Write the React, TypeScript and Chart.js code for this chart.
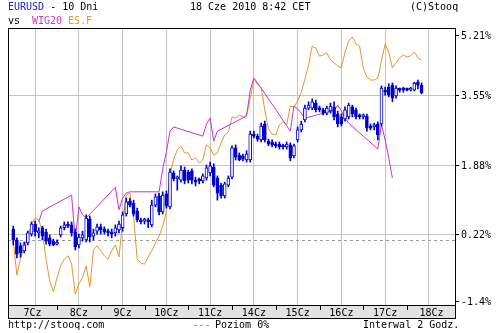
import React, { useEffect, useRef } from 'react';
import { Chart, registerables } from 'chart.js';

Chart.register(...registerables);

// ---- data (x = 2-hour bar index counted from 7 June 00:00, y = % change) ----
const dayLabels = ['7Cz', '8Cz', '9Cz', '10Cz', '11Cz', '14Cz', '15Cz', '16Cz', '17Cz', '18Cz'];
const dayBoundarySlots = [12, 24, 36, 48, 60, 72, 84, 96, 108];
const slotMin = -1.44;
const slotMax = 121.44;

const yMin = -1.465;
const yMax = 5.154;
const gridValues = [0.22, 1.88, 3.55];
const yTickValues = [5.21, 3.55, 1.88, 0.22, -1.4];
const yTickLabels = ['5.21%', '3.55%', '1.88%', '0.22%', '-1.4%'];
const zeroLevel = 0.09;

const eurOpen = [
  0.35, 0.09, -0.05, -0.17, 0.02, 0.23, 0.47, 0.26, 0.38, 0.28,
  0.14, 0.06, -0.01, 0.21, 0.38, 0.45, 0.45, 0.28, -0.03, 0.14,
  0.09, 0.59, 0.18, 0.30, 0.40, 0.35, 0.30, 0.28, 0.26, 0.33,
  0.38, 0.71, 1.02, 0.97, 0.78, 0.57, 0.54, 0.57, 0.45, 0.92,
  1.14, 0.76, 1.19, 0.88, 1.69, 1.55, 1.52, 1.76, 1.71, 1.74,
  1.52, 1.52, 1.50, 1.57, 1.69, 1.83, 1.57, 1.40, 1.14, 1.40,
  1.59, 2.29, 2.12, 2.10, 2.00, 2.00, 2.62, 2.57, 2.48, 2.86,
  2.45, 2.43, 2.38, 2.38, 2.34, 2.31, 2.36, 2.10, 2.48, 2.72,
  2.96, 3.24, 3.24, 3.36, 3.24, 3.20, 3.12, 3.17, 3.27, 3.10,
  3.03, 2.98, 3.03, 3.27, 3.20, 3.05, 3.03, 3.05, 2.81, 2.79,
  2.86, 2.86, 3.67, 3.74, 3.79, 3.53, 3.70, 3.70, 3.70, 3.67,
  3.67, 3.86, 3.79,
];
const eurHigh = [
  0.42, 0.14, 0.02, 0.04, 0.30, 0.52, 0.54, 0.38, 0.42, 0.35,
  0.21, 0.11, 0.09, 0.42, 0.52, 0.52, 0.52, 0.35, 0.23, 0.30,
  0.69, 0.66, 0.35, 0.47, 0.47, 0.40, 0.35, 0.35, 0.45, 0.54,
  0.76, 1.09, 1.09, 1.04, 0.85, 0.61, 0.61, 0.61, 1.04, 1.19,
  1.21, 1.24, 1.26, 1.79, 1.74, 1.62, 1.86, 1.83, 1.76, 1.79,
  1.59, 1.57, 1.67, 1.88, 1.95, 1.91, 1.62, 1.45, 1.47, 1.62,
  2.34, 2.36, 2.17, 2.14, 2.22, 2.69, 2.69, 2.62, 2.88, 2.93,
  2.50, 2.48, 2.43, 2.43, 2.38, 2.43, 2.41, 2.38, 2.79, 2.93,
  3.31, 3.39, 3.46, 3.43, 3.29, 3.24, 3.29, 3.36, 3.39, 3.17,
  3.10, 3.27, 3.36, 3.31, 3.24, 3.10, 3.10, 3.10, 2.86, 2.88,
  2.91, 3.77, 3.74, 3.82, 3.84, 3.77, 3.72, 3.74, 3.72, 3.74,
  3.86, 3.91, 3.84,
];
const eurLow = [
  -0.03, -0.34, -0.32, -0.22, -0.03, 0.18, 0.18, 0.14, 0.09, -0.01,
  -0.05, -0.05, -0.03, 0.16, 0.33, 0.38, 0.18, -0.15, -0.10, 0.06,
  0.04, 0.04, 0.09, 0.23, 0.23, 0.23, 0.18, 0.14, 0.18, 0.26,
  0.30, 0.66, 0.88, 0.66, 0.52, 0.47, 0.47, 0.38, 0.40, 0.88,
  0.69, 0.71, 0.85, 0.83, 1.50, 1.28, 1.47, 1.43, 1.45, 1.43,
  1.38, 1.43, 1.45, 1.52, 1.62, 1.36, 1.04, 1.09, 1.09, 1.36,
  1.55, 2.00, 1.98, 1.98, 1.95, 1.95, 2.53, 2.45, 2.43, 2.43,
  2.34, 2.31, 2.29, 2.26, 2.26, 2.26, 1.98, 2.05, 2.43, 2.67,
  2.91, 3.20, 3.20, 3.15, 3.15, 3.08, 3.08, 3.12, 2.96, 2.79,
  2.81, 2.93, 2.98, 3.03, 2.98, 2.98, 2.98, 2.69, 2.72, 2.72,
  2.48, 2.81, 3.55, 3.51, 3.39, 3.48, 3.62, 3.62, 3.65, 3.65,
  3.65, 3.70, 3.58,
];
const eurClose = [
  0.09, -0.25, -0.22, -0.03, 0.26, 0.47, 0.28, 0.30, 0.18, 0.06,
  -0.01, -0.03, 0.04, 0.38, 0.45, 0.42, 0.26, -0.08, 0.16, 0.21,
  0.61, 0.16, 0.26, 0.40, 0.33, 0.28, 0.26, 0.23, 0.38, 0.47,
  0.69, 1.00, 0.92, 0.71, 0.57, 0.52, 0.57, 0.52, 0.92, 1.12,
  0.76, 1.16, 0.90, 1.71, 1.55, 1.57, 1.76, 1.50, 1.52, 1.52,
  1.47, 1.50, 1.62, 1.81, 1.86, 1.40, 1.21, 1.14, 1.43, 1.57,
  2.29, 2.07, 2.00, 2.02, 2.14, 2.62, 2.57, 2.50, 2.81, 2.48,
  2.38, 2.36, 2.34, 2.31, 2.31, 2.38, 2.05, 2.34, 2.72, 2.86,
  3.24, 3.31, 3.39, 3.20, 3.20, 3.12, 3.24, 3.29, 3.03, 2.86,
  2.86, 3.20, 3.31, 3.10, 3.03, 3.03, 3.05, 2.76, 2.76, 2.84,
  2.60, 3.72, 3.62, 3.55, 3.48, 3.72, 3.67, 3.67, 3.67, 3.72,
  3.84, 3.79, 3.60,
];

const esfValues = [
  0.06, -0.75, -0.34, -0.08, 0.16, 0.47, 0.61, 0.57, 0.28, -0.37,
  -0.89, -1.15, -0.82, -0.53, -0.37, -0.29, -0.48, -1.20, -0.96, -0.82,
  -0.53, -1.03, -0.15, -0.05, -0.17, -0.29, -0.37, -0.17, -0.03, -0.32,
  0.52, 1.16, 1.21, 0.64, -0.37, -0.46, -0.49, -0.32, -0.17, 0.02,
  0.18, 0.42, 0.76, 1.64, 2.02, 2.24, 2.33, 2.17, 2.17, 2.00,
  2.05, 1.93, 2.00, 2.36, 2.29, 2.12, 2.17, 2.41, 2.60, 2.67,
  3.03, 3.00, 3.07, 3.03, 3.07, 3.46, 3.93, 3.81, 3.72, 3.19,
  2.74, 2.62, 2.60, 2.84, 2.91, 2.84, 3.29, 3.27, 3.41, 3.62,
  3.93, 4.27, 4.72, 4.67, 4.48, 4.51, 4.56, 4.39, 4.32, 4.25,
  4.20, 4.58, 4.84, 4.94, 4.77, 4.72, 4.20, 3.98, 3.91, 3.91,
  3.96, 4.37, 4.77, 4.58, 4.20, 4.32, 4.44, 4.51, 4.46, 4.49,
  4.58, 4.44, 4.39,
];

const wig20Slots = [
  7, 8, 16, 17, 18, 19, 20, 28, 29, 30, 31, 32, 40, 41, 42, 43, 44,
  52, 53, 54, 55, 56, 64, 65, 66, 67, 68, 76, 77, 78, 79, 80,
  88, 89, 90, 91, 92, 100, 101, 102, 103, 104,
];
const wig20Values = [
  0.52, 0.78, 1.16, 0.09, 0.88, 0.69, 0.61, 1.35, 0.81, 1.09, 1.21, 1.24,
  1.24, 1.79, 2.19, 2.69, 2.79, 2.57, 2.86, 3.00, 2.45, 2.69,
  3.05, 3.67, 3.96, 3.84, 3.72, 2.69, 3.29, 3.22, 3.12, 3.00,
  3.19, 3.31, 3.17, 3.00, 2.88, 2.26, 2.84, 2.48, 2.05, 1.57,
];

// ---- styles ----
const BLUE = '#0000cc';
const TITLE_BLUE = '#2222c4';
const MAGENTA = '#cc33cc';
const ORANGE = '#e8962a';
const TITLE_ORANGE = '#dc9a3c';
const GRID = '#c4c4c4';
const BAND = '#e2e2e2';
const FONT = '10px "DejaVu Sans Mono", monospace';

const decor = {
  id: 'stooqDecor',
  beforeDraw(chart: any) {
    const ctx = chart.ctx;
    ctx.save();
    ctx.fillStyle = '#ffffff';
    ctx.fillRect(0, 0, chart.width, chart.height);
    ctx.restore();
  },
  beforeDatasetsDraw(chart: any) {
    const ctx = chart.ctx;
    const { left, right } = chart.chartArea;
    const y = Math.round(chart.scales.y.getPixelForValue(zeroLevel)) + 0.5;
    ctx.save();
    ctx.strokeStyle = '#9a9a9a';
    ctx.lineWidth = 1;
    ctx.setLineDash([3, 3]);
    ctx.beginPath();
    ctx.moveTo(left, y);
    ctx.lineTo(right, y);
    ctx.stroke();
    ctx.restore();
  },
  afterDraw(chart: any) {
    const ctx = chart.ctx;
    const { left, right, top, bottom } = chart.chartArea;
    const xs = chart.scales.x;
    const ys = chart.scales.y;
    const bandH = 13;
    ctx.save();
    // x label band
    ctx.fillStyle = BAND;
    ctx.fillRect(left, bottom, right - left, bandH);
    // frame
    ctx.strokeStyle = '#000';
    ctx.lineWidth = 1;
    ctx.beginPath();
    ctx.moveTo(left, top + 0.5);
    ctx.lineTo(right, top + 0.5);
    ctx.moveTo(left + 0.5, top);
    ctx.lineTo(left + 0.5, bottom + bandH + 1);
    ctx.moveTo(right - 0.5, top);
    ctx.lineTo(right - 0.5, bottom + bandH + 1);
    ctx.moveTo(left, bottom + 0.5);
    ctx.lineTo(right, bottom + 0.5);
    ctx.moveTo(left, bottom + bandH + 0.5);
    ctx.lineTo(right, bottom + bandH + 0.5);
    // day separators in the band
    dayBoundarySlots.forEach((s) => {
      const x = Math.round(xs.getPixelForValue(s)) + 0.5;
      ctx.moveTo(x, bottom);
      ctx.lineTo(x, bottom + 5);
    });
    ctx.stroke();

    ctx.font = FONT;
    ctx.textBaseline = 'alphabetic';
    // day labels
    ctx.fillStyle = '#000';
    ctx.textAlign = 'center';
    const edges = [slotMin, ...dayBoundarySlots, slotMax];
    dayLabels.forEach((lab, i) => {
      const c = xs.getPixelForValue((edges[i] + edges[i + 1]) / 2);
      ctx.fillText(lab, c, bottom + 11);
    });

    // y labels (right side)
    ctx.textAlign = 'left';
    ctx.beginPath();
    yTickValues.forEach((v, i) => {
      let py = ys.getPixelForValue(v);
      py = Math.min(Math.max(py, top + 7), bottom - 4);
      const ty = Math.round(py) + 0.5;
      ctx.moveTo(right, ty);
      ctx.lineTo(right + 3, ty);
      ctx.fillText(yTickLabels[i], right + 5, Math.round(py) + 4);
    });
    ctx.stroke();

    // header
    ctx.fillStyle = TITLE_BLUE;
    ctx.fillText('EURUSD', 8, 10);
    const w = ctx.measureText('EURUSD').width;
    ctx.fillStyle = '#000';
    ctx.fillText(' - 10 Dni', 8 + w, 10);
    ctx.fillText('18 Cze 2010 8:42 CET', 190, 10);
    ctx.fillText('(C)Stooq', 410, 10);
    ctx.fillText('vs', 8, 24);
    ctx.fillStyle = MAGENTA;
    ctx.fillText('WIG20', 32, 24);
    ctx.fillStyle = TITLE_ORANGE;
    ctx.fillText('ES.F', 68, 24);

    // footer
    ctx.fillStyle = '#000';
    ctx.fillText('http://stooq.com', 8, 328);
    ctx.fillText('Poziom 0%', 215, 328);
    ctx.fillText('Interwal 2 Godz.', 363, 328);
    ctx.strokeStyle = '#9a9a9a';
    ctx.setLineDash([3, 3]);
    ctx.beginPath();
    ctx.moveTo(194, 325.5);
    ctx.lineTo(212, 325.5);
    ctx.stroke();
    ctx.restore();
  },
};

export default function App() {
  const ref = useRef<HTMLCanvasElement>(null);

  useEffect(() => {
    document.body.style.margin = '0';
    const canvas = ref.current;
    if (!canvas) return;
    const slots = eurOpen.map((_, i) => i);
    const bodies = slots.map((i) => ({ x: i, y: [eurOpen[i], eurClose[i]] }));
    const wicks = slots.map((i) => ({ x: i, y: [eurLow[i], eurHigh[i]] }));
    const bodyFill = slots.map((i) => (eurClose[i] >= eurOpen[i] ? '#ffffff' : BLUE));
    const esfPts = esfValues.map((v, i) => ({ x: i, y: v }));
    const wigPts = wig20Slots.map((s, i) => ({ x: s, y: wig20Values[i] }));

    const chart = new Chart(canvas, {
      type: 'bar',
      data: {
        datasets: [
          {
            type: 'bar',
            label: 'EURUSD body',
            data: bodies as any,
            backgroundColor: bodyFill,
            borderColor: BLUE,
            borderWidth: 1,
            borderSkipped: false,
            barThickness: 3,
            minBarLength: 2,
            grouped: false,
            order: 0,
          } as any,
          {
            type: 'bar',
            label: 'EURUSD wick',
            data: wicks as any,
            backgroundColor: BLUE,
            borderWidth: 0,
            barThickness: 1,
            grouped: false,
            order: 1,
          } as any,
          {
            type: 'line',
            label: 'WIG20',
            data: wigPts,
            borderColor: MAGENTA,
            borderWidth: 1,
            pointRadius: 0,
            tension: 0,
            order: 2,
          } as any,
          {
            type: 'line',
            label: 'ES.F',
            data: esfPts,
            borderColor: ORANGE,
            borderWidth: 1,
            pointRadius: 0,
            tension: 0,
            order: 3,
          } as any,
        ],
      },
      options: {
        responsive: false,
        animation: false,
        devicePixelRatio: 1,
        events: [],
        layout: { padding: { left: 8, right: 44, top: 28, bottom: 28 } },
        plugins: { legend: { display: false }, tooltip: { enabled: false } },
        scales: {
          x: {
            type: 'linear',
            min: slotMin,
            max: slotMax,
            offset: false,
            afterBuildTicks: (s: any) => {
              s.ticks = dayBoundarySlots.map((v) => ({ value: v }));
            },
            ticks: { display: false },
            grid: { color: GRID, drawTicks: false, lineWidth: 1 },
            border: { display: false },
          },
          y: {
            type: 'linear',
            min: yMin,
            max: yMax,
            afterBuildTicks: (s: any) => {
              s.ticks = gridValues.map((v) => ({ value: v }));
            },
            ticks: { display: false },
            grid: { color: GRID, drawTicks: false, lineWidth: 1 },
            border: { display: false },
          },
        },
      } as any,
      plugins: [decor],
    });
    return () => chart.destroy();
  }, []);

  return <canvas ref={ref} width={500} height={333} style={{ display: 'block' }} />;
}
